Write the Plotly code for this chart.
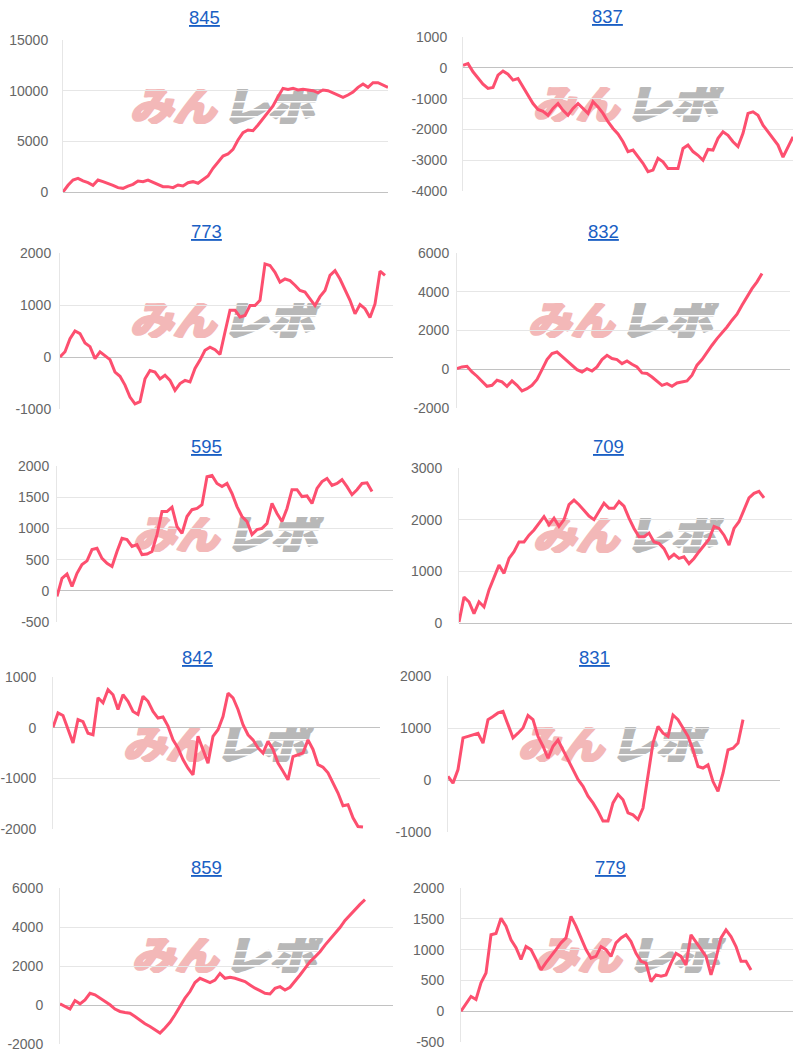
import base64
import plotly.graph_objects as go

# Theme settings
LINE_COLOR = "#fd4f6f"
TITLE_COLOR = "#1a5fc4"
TICK_COLOR = "#666666"
GRID_COLOR = "#e6e6e6"
ZERO_COLOR = "#c2c2c2"
FONT = "Liberation Sans, Arial, sans-serif"

W, H = 800, 1057

# Data: cumulative balance per machine number
titles = ["845", "837", "773", "832", "595", "709", "842", "831", "859", "779"]

s845 = [0, 660, 1180, 1350, 1090, 920, 660, 1180, 1020, 860, 660, 430, 360, 590,
        760, 1090, 1020, 1180, 950, 760, 530, 530, 430, 690, 590, 920, 1020, 860,
        1250, 1580, 2340, 3000, 3550, 3750, 4210, 5130, 5860, 6120, 6050, 6610,
        7270, 7830, 8490, 9410, 10230, 10130, 10230, 10070, 10130, 10070, 10000,
        9800, 10070, 10000, 9800, 9570, 9340, 9570, 9870, 10330, 10660, 10330,
        10790, 10790, 10560, 10330]
s837 = [80, 135, -130, -350, -530, -670, -640, -240, -110, -210, -400, -350, -620,
        -890, -1160, -1350, -1410, -1540, -1320, -1160, -1380, -1540, -1320, -1160,
        -1320, -1480, -1100, -1270, -1480, -1750, -1970, -2150, -2400, -2720, -2670,
        -2890, -3100, -3370, -3320, -2940, -3050, -3270, -3270, -3270, -2620, -2510,
        -2720, -2840, -3000, -2650, -2670, -2290, -2080, -2190, -2400, -2560, -2130,
        -1480, -1430, -1540, -1860, -2080, -2290, -2510, -2900, -2560, -2240]
s773 = [0, 100, 350, 500, 450, 270, 200, -30, 100, 30, -50, -290, -370, -540, -770,
        -900, -860, -420, -260, -290, -420, -350, -450, -640, -510, -450, -480, -220,
        -60, 130, 190, 140, 50, 480, 900, 900, 770, 800, 990, 990, 1090, 1790, 1760,
        1630, 1440, 1500, 1470, 1380, 1280, 1250, 1120, 990, 1160, 1280, 1570, 1660,
        1500, 1310, 1090, 830, 1010, 930, 760, 1020, 1650, 1570]
s832 = [30, 120, 150, -140, -360, -600, -880, -830, -570, -650, -880, -600, -830,
        -1120, -1000, -830, -530, -20, 500, 810, 890, 670, 430, 210, -20, -140, 30,
        -90, 120, 500, 720, 550, 500, 290, 430, 260, 120, -190, -220, -400, -600,
        -830, -740, -880, -710, -650, -600, -310, 210, 500, 890, 1240, 1580, 1870,
        2180, 2530, 2840, 3300, 3730, 4160, 4510, 4940]
s595 = [-90, 200, 270, 70, 280, 420, 480, 660, 680, 520, 440, 390, 630, 840, 820,
        710, 740, 580, 590, 630, 900, 1270, 1270, 1340, 1030, 920, 1190, 1300, 1320,
        1380, 1830, 1850, 1720, 1670, 1720, 1560, 1350, 1190, 1110, 900, 980, 1000,
        1080, 1400, 1240, 1110, 1320, 1620, 1620, 1510, 1520, 1400, 1640, 1750, 1800,
        1690, 1720, 1780, 1670, 1540, 1620, 1720, 1730, 1590]
s709 = [20, 500, 410, 180, 410, 310, 640, 890, 1120, 960, 1250, 1380, 1570, 1570,
        1700, 1800, 1930, 2060, 1900, 2030, 1870, 2000, 2290, 2380, 2290, 2190, 2070,
        2000, 2160, 2320, 2220, 2220, 2350, 2260, 2030, 1830, 1670, 1670, 1740, 1570,
        1540, 1440, 1250, 1330, 1250, 1280, 1150, 1250, 1380, 1490, 1620, 1870, 1830,
        1700, 1510, 1830, 1960, 2190, 2420, 2510, 2550, 2420]
s842 = [10, 290, 240, -40, -300, 160, 120, -110, -140, 590, 490, 750, 650, 360, 650,
        520, 320, 260, 620, 520, 320, 190, 210, 30, -240, -400, -630, -800, -930, -170,
        -430, -700, -170, -40, 220, 680, 590, 360, 60, -140, -240, -400, -500, -270,
        -430, -700, -860, -1030, -570, -530, -500, -240, -430, -730, -780, -890, -1090,
        -1290, -1540, -1520, -1780, -1950, -1960]
s831 = [70, -60, 200, 810, 840, 870, 900, 710, 1160, 1220, 1290, 1320, 1060, 810, 900,
        1000, 1240, 1160, 840, 650, 420, 650, 770, 580, 390, 170, 10, -120, -310, -440,
        -600, -790, -790, -440, -280, -380, -630, -670, -760, -540, 130, 710, 1030,
        900, 840, 1250, 1160, 1000, 840, 580, 260, 230, 290, -30, -220, 130, 580, 610,
        710, 1160]
s859 = [60, -80, -210, 230, 60, 260, 600, 520, 350, 180, 10, -210, -330, -380, -420,
        -590, -790, -960, -1100, -1270, -1440, -1180, -890, -500, -80, 350, 690, 1150,
        1370, 1280, 1150, 1280, 1620, 1370, 1420, 1370, 1280, 1200, 1030, 860, 740, 600,
        570, 860, 940, 770, 910, 1200, 1540, 1880, 2220, 2470, 2730, 3070, 3360, 3630,
        3970, 4340, 4630, 4890, 5160, 5400]
s779 = [0, 110, 240, 190, 460, 620, 1240, 1260, 1510, 1380, 1160, 1030, 840, 1050,
        1000, 840, 670, 790, 890, 1000, 1110, 1190, 1540, 1380, 1190, 1000, 860, 890,
        1050, 1000, 890, 1110, 1190, 1240, 1130, 940, 810, 780, 480, 590, 570, 590, 780,
        940, 890, 750, 1240, 1130, 1000, 890, 590, 860, 1190, 1320, 1210, 1050, 810,
        810, 670]

series = [s845, s837, s773, s832, s595, s709, s842, s831, s859, s779]

# y axis scale per chart: (min, max, step)
y_scales = [(0, 15000, 5000), (-4000, 1000, 1000), (-1000, 2000, 1000),
            (-2000, 6000, 2000), (-500, 2000, 500), (0, 3000, 1000),
            (-2000, 1000, 1000), (-1000, 2000, 1000), (-2000, 6000, 2000),
            (-500, 2000, 500)]

# Layout (pixels): plot box left, right, top, bottom; number of slots on x
boxes = [(63, 388, 40, 192), (463, 793, 37, 191),
         (60, 393, 253, 409), (457, 790, 253, 408),
         (57, 393, 466, 622), (459, 792, 468, 623),
         (53, 380, 677, 829), (448, 780, 676, 832),
         (60, 393, 888, 1044), (461, 793, 888, 1042)]
x_slots = [65, 66, 66.6, 66.6, 67.2, 66.6, 65.4, 66.4, 66.6, 66.4]
label_gap = [11, 12, 5, 4, 4, 13, 13, 13, 13, 13]
title_pos = [(204, 18), (607, 17), (206, 232), (603, 232), (207, 446),
             (608, 447), (197, 657), (594, 657), (207, 867), (610, 867)]
logo_pos = [(130, 89), (533, 87), (130, 303), (528, 303), (133, 517),
            (533, 518), (123, 727), (518, 727), (132, 938), (535, 938)]
LOGO_W, LOGO_H = 192, 35


def logo_uri():
    svg = (
        f'<svg xmlns="http://www.w3.org/2000/svg" width="{LOGO_W}" height="{LOGO_H}" '
        f'viewBox="0 0 {LOGO_W} {LOGO_H}">'
        '<g transform="skewX(-14) translate(8,0)" '
        'font-family="Noto Sans CJK JP" font-weight="900" font-size="40" '
        'stroke-width="2.4" stroke-linejoin="round">'
        '<text x="0" y="32" fill="#f3b8b8" stroke="#f3b8b8" '
        'textLength="86" lengthAdjust="spacingAndGlyphs">みん</text>'
        '<text x="92" y="32" fill="#b8b8b8" stroke="#b8b8b8" '
        'textLength="92" lengthAdjust="spacingAndGlyphs">レポ</text>'
        '</g>'
        '<g fill="#ffffff">'
        '<rect x="94" y="12" width="98" height="1.5"/>'
        '<rect x="94" y="20" width="98" height="1.5"/>'
        '<rect x="94" y="27" width="98" height="1.5"/>'
        '</g></svg>'
    )
    return "data:image/svg+xml;base64," + base64.b64encode(svg.encode("utf-8")).decode()


fig = go.Figure()
logo = logo_uri()

for i, (name, vals) in enumerate(zip(titles, series)):
    sfx = "" if i == 0 else str(i + 1)
    left, right, top, bottom = boxes[i]
    ymin, ymax, step = y_scales[i]
    tickvals = list(range(ymin, ymax + 1, step))

    fig.add_trace(go.Scatter(
        x=list(range(len(vals))), y=vals,
        mode="lines", line=dict(color=LINE_COLOR, width=3),
        xaxis="x" + sfx, yaxis="y" + sfx,
        showlegend=False, hoverinfo="skip",
    ))

    fig.layout["xaxis" + sfx] = dict(
        domain=[left / W, right / W], range=[0, x_slots[i]],
        showgrid=False, zeroline=False, showticklabels=False, ticks="",
        anchor="y" + sfx, fixedrange=True, automargin=False,
    )
    fig.layout["yaxis" + sfx] = dict(
        domain=[1 - bottom / H, 1 - top / H], range=[ymin, ymax],
        tickmode="array", tickvals=tickvals, ticktext=[str(v) for v in tickvals],
        showgrid=True, gridcolor=GRID_COLOR, gridwidth=1,
        zeroline=True, zerolinecolor=ZERO_COLOR, zerolinewidth=1,
        showline=True, linecolor=GRID_COLOR, linewidth=1,
        ticks="", ticklabelstandoff=label_gap[i],
        tickfont=dict(family=FONT, size=14, color=TICK_COLOR),
        anchor="x" + sfx, fixedrange=True, automargin=False,
    )

    tx, ty = title_pos[i]
    fig.add_annotation(
        text=name, x=tx / W, y=1 - ty / H, xref="paper", yref="paper",
        xanchor="center", yanchor="middle", showarrow=False,
        font=dict(family=FONT, size=18.5, color=TITLE_COLOR, lineposition="under"),
    )

    lx, ly = logo_pos[i]
    fig.add_layout_image(
        source=logo, xref="paper", yref="paper",
        x=lx / W, y=1 - ly / H, sizex=LOGO_W / W, sizey=LOGO_H / H,
        xanchor="left", yanchor="top", sizing="stretch", layer="below",
    )

fig.update_layout(
    width=W, height=H,
    margin=dict(l=0, r=0, t=0, b=0, pad=0, autoexpand=False),
    paper_bgcolor="white", plot_bgcolor="rgba(0,0,0,0)",
)

fig.write_html(
    "out.html",
    config={"displayModeBar": False},
    post_script="document.body.style.margin = '0';",
)
